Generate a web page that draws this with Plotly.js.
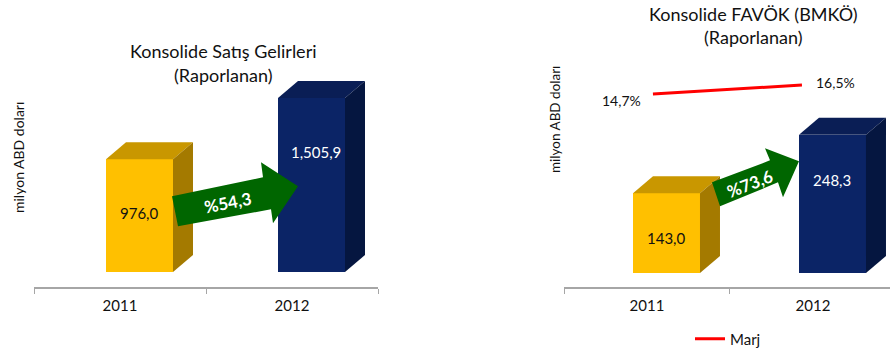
<!DOCTYPE html>
<html>
<head>
<meta charset="utf-8">
<script src="https://cdn.plot.ly/plotly-3.0.1.min.js"></script>
<style>html,body{margin:0;padding:0;background:#fff;}#chart{width:890px;height:356px;}</style>
</head>
<body>
<div id="chart"></div>
<script>
// ---- data ----
const years = ['2011', '2012'];
const salesValues = [976.0, 1505.9];
const salesLabels = ['976,0', '1,505,9'];
const salesGrowthLabel = '%54,3';
const ebitdaValues = [143.0, 248.3];
const ebitdaLabels = ['143,0', '248,3'];
const ebitdaGrowthLabel = '%73,6';
const marginValues = [14.7, 16.5];
const marginLabels = ['14,7%', '16,5%'];
const leftTitle = ['Konsolide Satış Gelirleri', '(Raporlanan)'];
const rightTitle = ['Konsolide FAVÖK (BMKÖ)', '(Raporlanan)'];
const yTitle = 'milyon ABD doları';
const legendName = 'Marj';

// ---- layout geometry ----
const W = 890, H = 356;
const FONT = 'Lato, "Open Sans", sans-serif';
const yDom = [(H - 287) / H, (H - 30) / H];
const plotH = (yDom[1] - yDom[0]) * H;

const L = { xDom: [34 / W, 378 / W], xRange: [-0.5, 1.5], yRange: [-129.9, 2095.2] };
const R = { xDom: [564 / W, 1], xRange: [-0.5, 1.464], yRange: [-25.1, 436.3] };
const M = { xRange: [-0.597, 1.591], yRange: [-23.9, 27.5] };

function xUnitPx(c) { return (c.xDom[1] - c.xDom[0]) * W / (c.xRange[1] - c.xRange[0]); }
function yUnitPx(c) { return plotH / (c.yRange[1] - c.yRange[0]); }

const yellow = { front: '#FFC000', top: '#C99700', side: '#A47A00' };
const navy = { front: '#0B2466', top: '#0A1E55', side: '#051640' };
const colorsByIndex = [yellow, navy];

const shapes = [];
function add3dBars(c, xref, yref, values, faceWidthPx, centerShiftPx) {
  const ux = xUnitPx(c), uy = yUnitPx(c);
  const w = faceWidthPx / ux, cs = centerShiftPx / ux;
  const dx = 20 / ux, dy = 17 / uy;
  values.forEach((v, i) => {
    const x0 = i + cs - w / 2, x1 = x0 + w;
    const col = colorsByIndex[i];
    shapes.push({ type: 'path', xref, yref, layer: 'above', line: { width: 0 }, fillcolor: col.top,
      path: `M ${x0},${v} L ${x1},${v} L ${x1 + dx},${v + dy} L ${x0 + dx},${v + dy} Z` });
    shapes.push({ type: 'path', xref, yref, layer: 'above', line: { width: 0 }, fillcolor: col.side,
      path: `M ${x1},0 L ${x1},${v} L ${x1 + dx},${v + dy} L ${x1 + dx},${dy} Z` });
  });
  return { w, cs };
}
const lb = add3dBars(L, 'x', 'y', salesValues, 67, 19.5);
const rb = add3dBars(R, 'x2', 'y2', ebitdaValues, 67, 19.5);

// growth arrows (pixel offsets, anchored between the two years at the 2011 value)
function arrow(xref, yref, yAnchor, pts) {
  const d = 'M ' + pts.map(p => p[0] + ',' + p[1]).join(' L ') + ' Z';
  shapes.push({ type: 'path', xref, yref, xsizemode: 'pixel', ysizemode: 'pixel',
    xanchor: 0.5, yanchor: yAnchor, layer: 'above', line: { width: 0 }, fillcolor: '#006600', path: d });
}
arrow('x', 'y', salesValues[0], [[-34, -37], [57, -18], [55, -3], [92, -27], [67, -64], [65, -50], [-28, -67]]);
arrow('x2', 'y2', ebitdaValues[0], [[-18, 11], [40, 33], [35, 45], [69, 32], [53, -4], [48, 11], [-10, -13]]);

// ---- traces ----
const traces = [
  { type: 'bar', x: years, y: salesValues, xaxis: 'x', yaxis: 'y', width: lb.w, offset: lb.cs - lb.w / 2,
    marker: { color: [yellow.front, navy.front], line: { width: 0 } }, showlegend: false, hoverinfo: 'skip' },
  { type: 'bar', x: years, y: ebitdaValues, xaxis: 'x2', yaxis: 'y2', width: rb.w, offset: rb.cs - rb.w / 2,
    marker: { color: [yellow.front, navy.front], line: { width: 0 } }, showlegend: false, hoverinfo: 'skip' },
  { type: 'scatter', mode: 'lines', x: years, y: marginValues, xaxis: 'x3', yaxis: 'y3', name: legendName,
    line: { color: '#FF0000', width: 3 }, showlegend: true, hoverinfo: 'skip' }
];

// ---- annotations ----
const ann = [];
function txt(o) { ann.push(Object.assign({ showarrow: false, xanchor: 'center', yanchor: 'middle',
  font: { family: FONT, size: 14, color: '#111' } }, o)); }
const titleFont = { family: FONT, size: 18, color: '#111' };
txt({ xref: 'paper', yref: 'paper', x: 223 / W, y: (H - 51) / H, text: leftTitle[0], font: titleFont });
txt({ xref: 'paper', yref: 'paper', x: 223 / W, y: (H - 75) / H, text: leftTitle[1], font: titleFont });
txt({ xref: 'paper', yref: 'paper', x: 753 / W, y: (H - 14) / H, text: rightTitle[0], font: titleFont });
txt({ xref: 'paper', yref: 'paper', x: 753 / W, y: (H - 37) / H, text: rightTitle[1], font: titleFont });
txt({ xref: 'paper', yref: 'paper', x: 18 / W, y: (H - 158) / H, text: yTitle, textangle: -90, font: { family: FONT, size: 14, color: '#111' } });
txt({ xref: 'paper', yref: 'paper', x: 555 / W, y: (H - 120) / H, text: yTitle, textangle: -90, font: { family: FONT, size: 13.5, color: '#111' } });
// value labels
salesValues.forEach((v, i) => txt({ xref: 'x', yref: 'y', x: i + lb.cs, y: v, yshift: -54, xshift: i === 1 ? 4 : 0, text: salesLabels[i],
  font: { family: FONT, size: 15, color: i === 0 ? '#111' : '#fff' } }));
ebitdaValues.forEach((v, i) => txt({ xref: 'x2', yref: 'y2', x: i + rb.cs, y: v, yshift: -45, text: ebitdaLabels[i],
  font: { family: FONT, size: 15, color: i === 0 ? '#111' : '#fff' } }));
// growth labels
txt({ xref: 'x', yref: 'y', x: 0.5, y: salesValues[0], xshift: 22, yshift: -43, textangle: -11, text: '<b>' + salesGrowthLabel + '</b>',
  font: { family: FONT, size: 17, color: '#fff' } });
txt({ xref: 'x2', yref: 'y2', x: 0.5, y: ebitdaValues[0], xshift: 20, yshift: 10, textangle: -21, text: '<b>' + ebitdaGrowthLabel + '</b>',
  font: { family: FONT, size: 17, color: '#fff' } });
// margin labels
txt({ xref: 'x3', yref: 'y3', x: 0, y: marginValues[0], xanchor: 'right', xshift: -10, yshift: -6, text: marginLabels[0] });
txt({ xref: 'x3', yref: 'y3', x: 1, y: marginValues[1], xanchor: 'left', xshift: 12, yshift: 3, text: marginLabels[1] });

const catAxis = (dom, rng) => ({
  domain: dom, range: rng, type: 'category', showgrid: false, zeroline: false, fixedrange: true,
  showline: true, linecolor: '#A6A6A6', linewidth: 2, ticks: 'outside', tickson: 'boundaries',
  ticklen: 5, tickwidth: 1, tickcolor: '#A6A6A6', ticklabelstandoff: 4,
  tickfont: { family: FONT, size: 15, color: '#111' }
});
const hiddenY = (rng) => ({ domain: yDom, range: rng, visible: false, showgrid: false, zeroline: false, fixedrange: true });

const layout = {
  width: W, height: H, margin: { l: 0, r: 0, t: 0, b: 0 },
  paper_bgcolor: '#fff', plot_bgcolor: 'rgba(0,0,0,0)',
  font: { family: FONT },
  xaxis: Object.assign(catAxis(L.xDom, L.xRange), { anchor: 'y' }),
  yaxis: Object.assign(hiddenY(L.yRange), { anchor: 'x' }),
  xaxis2: Object.assign(catAxis(R.xDom, R.xRange), { anchor: 'y2' }),
  yaxis2: Object.assign(hiddenY(R.yRange), { anchor: 'x2' }),
  xaxis3: { domain: R.xDom, range: M.xRange, type: 'category', overlaying: 'x2', anchor: 'y3', visible: false, fixedrange: true },
  yaxis3: Object.assign(hiddenY(M.yRange), { overlaying: 'y2', anchor: 'x3' }),
  showlegend: true,
  legend: { x: 690 / W, y: (H - 339) / H, xanchor: 'left', yanchor: 'middle', bgcolor: 'rgba(0,0,0,0)',
    font: { family: FONT, size: 15, color: '#111' } },
  shapes: shapes,
  annotations: ann,
  bargap: 0
};

Plotly.newPlot('chart', traces, layout, { staticPlot: true, displayModeBar: false });
</script>
</body>
</html>
